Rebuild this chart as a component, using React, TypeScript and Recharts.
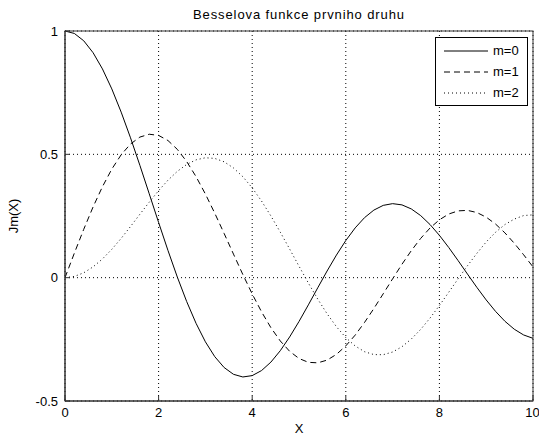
import { CartesianGrid, Line, LineChart, XAxis, YAxis } from 'recharts';

const INK = '#000';
const AXIS = '#333';
const FONT = '"Liberation Sans", Arial, sans-serif';

// Sample points along X, 0..10
const xs = [
  0, 0.2, 0.4, 0.6, 0.8, 1, 1.2, 1.4, 1.6, 1.8, 2, 2.2, 2.4, 2.6, 2.8, 3, 3.2, 3.4, 3.6, 3.8, 4,
  4.2, 4.4, 4.6, 4.8, 5, 5.2, 5.4, 5.6, 5.8, 6, 6.2, 6.4, 6.6, 6.8, 7, 7.2, 7.4, 7.6, 7.8, 8,
  8.2, 8.4, 8.6, 8.8, 9, 9.2, 9.4, 9.6, 9.8, 10,
];

const j0 = [
  1.0, 0.99, 0.9604, 0.912, 0.8463, 0.7652, 0.6711, 0.5669, 0.4554, 0.34, 0.2239, 0.1104, 0.0025,
  -0.0968, -0.185, -0.2601, -0.3202, -0.3643, -0.3918, -0.4026, -0.3971, -0.3766, -0.3423, -0.2961,
  -0.2404, -0.1776, -0.1103, -0.0412, 0.027, 0.0917, 0.1506, 0.2017, 0.2433, 0.274, 0.2931, 0.3001,
  0.2951, 0.2786, 0.2516, 0.2154, 0.1717, 0.1222, 0.0692, 0.0146, -0.0392, -0.0903, -0.1367,
  -0.1768, -0.209, -0.2323, -0.2459,
];

const j1 = [
  0, 0.0995, 0.196, 0.2867, 0.3688, 0.4401, 0.4983, 0.5419, 0.5699, 0.5815, 0.5767, 0.556, 0.5202,
  0.4708, 0.4097, 0.3391, 0.2613, 0.1792, 0.0955, 0.0128, -0.066, -0.1386, -0.2028, -0.2566,
  -0.2985, -0.3276, -0.3432, -0.3453, -0.3343, -0.311, -0.2767, -0.2329, -0.1816, -0.125, -0.0652,
  -0.0047, 0.0543, 0.1096, 0.1592, 0.2014, 0.2346, 0.258, 0.2708, 0.2728, 0.2641, 0.2453, 0.2174,
  0.1816, 0.1395, 0.0928, 0.0435,
];

const j2 = [
  0, 0.005, 0.0197, 0.0437, 0.0758, 0.1149, 0.1593, 0.2074, 0.257, 0.3061, 0.3528, 0.3951, 0.431,
  0.459, 0.4777, 0.4861, 0.4835, 0.4697, 0.4448, 0.4093, 0.3641, 0.3105, 0.25, 0.1846, 0.1161,
  0.0466, -0.0217, -0.0867, -0.1464, -0.1989, -0.2429, -0.2769, -0.3001, -0.3119, -0.3123, -0.3014,
  -0.28, -0.2487, -0.2097, -0.1638, -0.113, -0.059, -0.0047, 0.0484, 0.0984, 0.1448, 0.184, 0.2154,
  0.2375, 0.2518, 0.2546,
];

const xTicks = [0, 2, 4, 6, 8, 10];
const yTicks = [-0.5, 0, 0.5, 1];
const seriesNames = ['m=0', 'm=1', 'm=2'];
const dashes = ['0', '6 4', '1 3'];

const rows = xs.map((x, i) => ({ x, m0: j0[i], m1: j1[i], m2: j2[i] }));

// plot box (left, top, right, bottom) inside the 539x438 figure
const BOX = { l: 65, t: 31, r: 533, b: 401 };

const tickFont = { fill: INK, fontSize: 13, fontFamily: FONT };

function LegendBox() {
  return (
    <div
      style={{
        position: 'absolute',
        left: 435,
        top: 37,
        width: 93,
        height: 69,
        border: `1px solid ${INK}`,
        background: '#fff',
        boxSizing: 'border-box',
        paddingTop: 2,
        fontFamily: FONT,
        fontSize: 13,
        color: INK,
      }}
    >
      {seriesNames.map((name, i) => (
        <div key={name} style={{ display: 'flex', alignItems: 'center', height: 21 }}>
          <svg width={57} height={10} style={{ flex: 'none' }}>
            <line x1={8} x2={52} y1={5} y2={5} stroke={INK} strokeDasharray={dashes[i]} />
          </svg>
          <span>{name}</span>
        </div>
      ))}
    </div>
  );
}

export default function App() {
  return (
    <div style={{ position: 'absolute', left: 0, top: 0, width: 539, height: 438, background: '#fff' }}>
      <div
        style={{
          position: 'absolute',
          left: BOX.l,
          width: BOX.r - BOX.l,
          top: 7,
          textAlign: 'center',
          fontFamily: FONT,
          fontSize: 13,
          letterSpacing: 0.9,
          color: INK,
        }}
      >
        Besselova funkce prvniho druhu
      </div>
      <LineChart
        width={539}
        height={438}
        data={rows}
        margin={{ top: BOX.t, right: 539 - BOX.r, bottom: 438 - BOX.b - 20, left: BOX.l - 40 }}
      >
        <CartesianGrid xAxisId="b" yAxisId="l" stroke={INK} strokeDasharray="1 3" />
        <XAxis
          xAxisId="b"
          dataKey="x"
          type="number"
          domain={[0, 10]}
          ticks={xTicks}
          height={20}
          stroke={AXIS}
          tickSize={-5}
          tickMargin={12}
          tick={tickFont}
        />
        <YAxis
          yAxisId="l"
          type="number"
          domain={[-0.5, 1]}
          ticks={yTicks}
          width={40}
          stroke={AXIS}
          tickSize={-5}
          tickMargin={12}
          tick={tickFont}
        />
        {['m0', 'm1', 'm2'].map((key, i) => (
          <Line
            key={key}
            xAxisId="b"
            yAxisId="l"
            dataKey={key}
            name={seriesNames[i]}
            type="linear"
            stroke={INK}
            strokeWidth={1}
            strokeDasharray={dashes[i]}
            dot={false}
            activeDot={false}
            isAnimationActive={false}
          />
        ))}
      </LineChart>
      {/* top/right frame of the plot box plus the two axis titles */}
      <svg
        width={539}
        height={438}
        style={{ position: 'absolute', left: 0, top: 0, pointerEvents: 'none' }}
      >
        <rect
          x={BOX.l}
          y={BOX.t}
          width={BOX.r - BOX.l}
          height={BOX.b - BOX.t}
          fill="none"
          stroke={AXIS}
        />
        <text x={(BOX.l + BOX.r) / 2} y={430} textAnchor="middle" dominantBaseline="middle" {...tickFont}>
          X
        </text>
        <text
          x={15}
          y={(BOX.t + BOX.b) / 2}
          textAnchor="middle"
          dominantBaseline="middle"
          transform={`rotate(-90 15 ${(BOX.t + BOX.b) / 2})`}
          {...tickFont}
        >
          Jm(X)
        </text>
      </svg>
      <LegendBox />
    </div>
  );
}
